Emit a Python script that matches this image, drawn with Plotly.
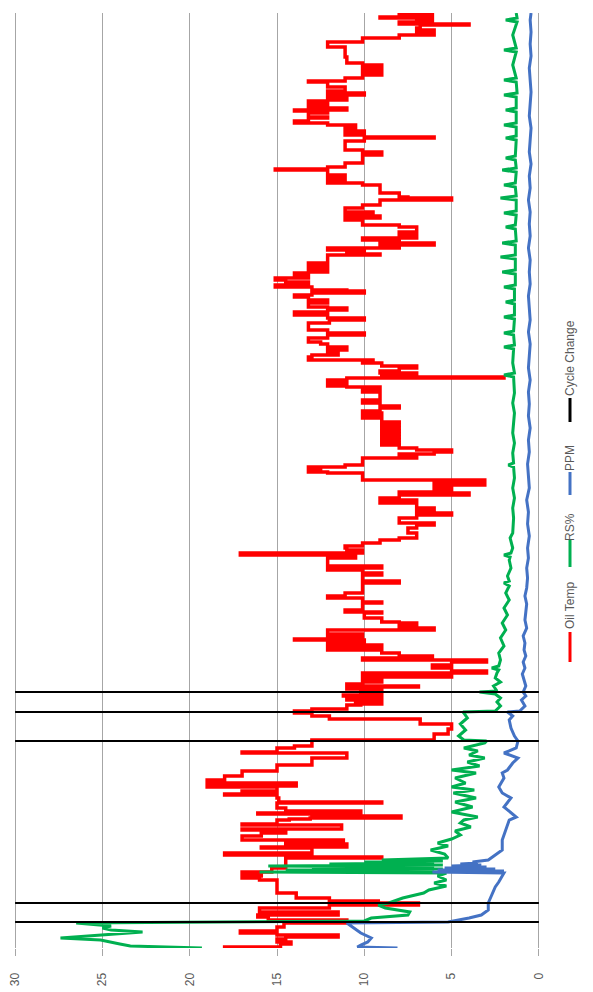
import plotly.graph_objects as go

# ---------------- data (time sample index, value) ----------------
oil_t = [0,1,4,6,9,11,13,15,17,21,25,28,31,33,36,40,43,45,47,50,55,65,68,70,72,74,76,80,90,91,93,95,100,101,104,106,108,112,115,118,119,123,124,128,
 129,130,132,134,135,137,140,145,146,150,153,154,156,157,161,162,165,168,171,172,176,177,182,183,189,190,193,195,196,200,202,206,208,212,214,219,224,229,232,235,237,239,241,243,244,246,248,249,252,253,256,258,259,261,262,
 264,266,268,271,273,275,277,280,283,286,288,290,292,295,298,300,303,306,308,309,311,314,318,320,323,325,326,330,335,336,338,345,346,350,352,355,360,365,367,373,375,378,380,382,388,390,393,395,398,
 400,402,405,408,410,415,420,423,425,430,433,435,438,440,445,447,448,450,453,455,456,458,460,463,465,467,468,471,475,476,478,480,481,483,487,490,492,494,496,498,500,503,505,508,511,514,517,520,523,526,530,533,
 535,537,540,542,545,548,555,556,558,561,562,564,566,568,570,571,573,575,577,580,582,585,587,588,591,593,596,598,601,604,606,610,613,615,618,623,625,628,630,633,636,638,640,641,645,648,651,653,655,657,658,661,663,666,
 668,670,673,675,676,679,681,683,685,690,693,694,696,698,700,702,703,705,706,708,710,713,716,720,721,723,726,728,730,732,734,736,740,743,748,750,751,755,760,763,765,767,769,771,773,778,779,781,785,790,793,796,798,803,
 805,807,810,811,813,815,817,820,823,825,827,830,831,835,837,838,840,841,843,845,847,848,851,853,855,857,861,866,867,870,873,874,876,878,881,883,885,891,896,901,905,906,910,913,914,916,918,920,923,924,926,928,930,931,933,935]
oil_temp = [18,14.8,14.2,15,14.5,11.5,15,17.1,15,14.6,11,15.5,16.1,11.5,16,12,6.9,9.2,12,13.9,15,15,16,17,15.9,17,15.3,14.5,9,13,18,13,15.9,11,14.5,11.2,17,15.9,14.5,17,11.3,17,15,14.3,
 13.1,7.9,13,16.1,10.2,14.5,15,9,14.9,15,18,15,17,15,19,13.9,19,18,18,17,17,15,15,13,13,11,11,17,15,14,13,13,6,6,5.2,5,6.8,12,13,14,13,11,11,10.2,9,10.5,11,9,11.2,9,10.2,9,11,6.9,11,
 10.1,9,10.1,5,10.1,3,5,6.1,5,3,10.1,6.1,8,9,12.1,9,12.1,10,14,12.1,10.1,12.1,6,8,7,8,9,10,9,11.1,10.1,9,10.1,12.1,11.1,10.1,10.1,8,10.1,9,10.1,12.1,9,12.1,12.1,10.5,17.1,10.1,11,
 11.1,10.1,9.1,8,7,7.5,7,6,8,7,5,7,6,7,9.1,7,9.1,8,4,8,6,5,6,3.1,6,3.1,10.1,10.1,12.1,13.2,12.5,13.2,11.1,10.1,10.1,7,8,6,5,7,8,9,8,9,8,9,8,9,8,9,10.1,9,
 10.1,9.1,8,9.1,10.1,9.1,9.1,10.1,9.1,11,12.1,11,12.1,11,2,9,7,9.1,8,7,9,10.1,9.5,13.2,13,11.5,12.1,11,12.1,12.5,13.2,12.1,10,12.1,13.2,13.2,12,10,12.1,14,12.1,11,12.1,13.2,12.1,13.2,14,13,10,11,13,15.1,13.2,14.5,
 15.1,13.2,14,13.2,12.1,13.2,12.1,13.2,12.1,12.1,9.1,11,10,12.1,8,9.1,6,9.1,8,10.1,7,8,7,7,8,10.1,10.1,11.1,9.1,11.1,9.5,11.1,10.1,9.1,5,7.5,8,9.1,9.1,10.1,12.1,11.1,12.1,11.1,12.1,15.1,12.1,11.1,10.1,10.1,9,10.1,11.1,11.1,
 11.1,10,6,10,11.1,10,11.1,10.5,12.1,14,13.2,12.1,13.2,12.1,14,11,12.1,13.2,12.1,13.2,12.1,11,12.1,10,12.1,11.1,12.1,13.2,11.1,10.1,9,10.1,9,10.1,9,10.1,11,11.1,11.1,12.1,12.1,10.1,8,6,7,6,7,6.8,4,8,6.1,7,9.1,6.1,8,6]

rs_t = [0,1,2,4,6,8,10,13,16,18,20,22,25,27,30,33,36,40,43,45,50,55,58,62,65,68,72,75,76,77,78,79,80,81,82,83,84,85,86,87,88,90,94,98,102,105,109,113,117,121,125,128,
 131,136,141,146,150,155,158,161,165,170,175,178,182,186,190,193,197,200,205,207,208,212,218,224,230,235,236,237,242,246,250,254,256,257,262,266,270,275,278,280,282,288,295,302,310,318,325,333,340,348,355,362,365,367,372,380,388,391,393,395,
 400,410,415,430,440,450,460,470,481,483,485,495,505,515,525,535,545,555,571,573,575,585,599,601,603,613,615,617,629,631,633,644,646,648,659,661,663,674,676,678,689,691,693,703,705,707,719,721,723,733,735,737,748,750,752,761,763,765,776,778,780,788,790,792,808,810,812,821,823,825,836,838,840,851,853,855,866,868,870,883,896,898,900,913,926,928,930,935]
rs_pct = [19.3,22,23.4,24,24.5,25.1,27.4,25,22.7,24.5,25,24.5,26.5,10,9.6,7.5,7.4,8.8,9.2,8.6,7.8,6.6,6.3,5.3,6.0,5.3,5.8,5.3,16,6,14.5,5.5,13,6,15.5,5.5,12,6,10,5.5,9,5.2,5.4,6.2,5.2,5.8,5.0,4.5,4.8,3.9,4.5,4.3,
 3.5,5,3.8,4.8,3.6,4.9,3.7,5,4.2,4.8,3.6,5.0,3.4,4.1,3.1,4.0,3.5,4.3,3.1,3.0,4.3,4.6,4.2,4.5,4.1,4.3,4.35,2.5,2.2,2.4,2.2,2.5,3.4,2.4,2.6,2.2,2.5,2.4,2.3,2.7,2.3,2.2,2.3,2.0,2.2,1.9,2.1,1.8,2.0,1.7,1.9,1.7,2.0,1.7,1.8,1.6,1.7,1.65,2.0,1.6,
 1.5,1.65,1.5,1.45,1.5,1.4,1.5,1.4,1.45,1.75,1.45,1.5,1.4,1.5,1.45,1.4,1.5,1.4,1.45,2.0,1.4,1.5,1.45,2.0,1.4,1.45,2.0,1.45,1.4,2.0,1.4,1.4,1.9,1.4,1.4,2.0,1.35,1.35,2.1,1.35,1.35,2.2,1.35,1.35,2.1,1.3,1.35,1.9,1.35,1.3,2.0,1.3,1.3,2.2,1.3,1.35,2.0,1.35,1.3,2.1,1.3,1.35,1.9,1.35,1.3,1.9,1.3,1.3,2.0,1.3,1.3,1.9,1.3,1.3,2.0,1.25,1.3,2.0,1.3,1.5,1.3,2.0,1.3,1.5,1.25,1.9,1.25,1.3]

ppm_t = [0,1,3,6,10,15,20,25,26,28,30,33,38,45,53,61,66,75,76,77,78,79,80,81,82,83,84,85,86,88,93,98,108,118,128,131,141,150,155,161,170,175,178,185,190,195,200,207,212,220,228,232,236,237,242,248,252,
 256,262,268,274,280,286,292,298,305,312,320,328,336,344,352,360,370,380,390,400,412,424,436,448,460,472,484,496,508,520,532,544,556,568,580,592,604,616,628,640,652,664,676,688,700,712,724,736,748,760,772,784,796,808,820,832,844,856,868,880,892,904,916,928,935]
ppm = [8.1,10.4,10.2,9.8,9.6,10.2,10.6,11,5.2,4.5,4,3.3,2.9,2.9,2.7,2.5,2.3,2.0,6.1,2,5.8,2.5,5.4,3,5,3.3,4.5,3.5,3.8,2.9,2.5,2.1,2.1,1.9,1.7,1.3,2.0,1.6,2.1,2.3,2.0,2.1,1.8,1.5,1.2,2.0,1.3,1.2,1.4,1.6,1.7,1.5,1.8,1.1,0.8,1.0,0.75,
 0.9,0.75,0.85,0.95,0.8,0.9,0.75,0.85,0.8,0.9,0.7,0.8,0.75,0.7,0.8,0.7,0.65,0.7,0.6,0.65,0.55,0.65,0.6,0.7,0.55,0.6,0.65,0.55,0.6,0.5,0.6,0.55,0.6,0.5,0.6,0.55,0.5,0.6,0.5,0.55,0.6,0.5,0.55,0.5,0.6,0.5,0.55,0.5,0.6,0.5,0.55,0.45,0.55,0.5,0.45,0.55,0.5,0.45,0.5,0.55,0.45,0.5,0.45,0.5,0.45]

cycle_change_t = [26, 45, 207, 236, 256]

value_ticks = [0, 5, 10, 15, 20, 25, 30]

series_names = ["Oil Temp", "RS%", "PPM", "Cycle Change"]
series_colors = ["#FF0000", "#00B050", "#4472C4", "#000000"]

# ---------------- layout constants ----------------
W, H = 593, 992
ML, MR, MT, MB = 13, 52, 13, 44
VMAX, VMIN = 30, 0
PAD = 0.12
T_END = 935

fig = go.Figure()

fig.add_trace(go.Scatter(x=oil_temp, y=oil_t, mode="lines", name=series_names[0],
                         line=dict(color=series_colors[0], width=3.5, shape="vh")))
fig.add_trace(go.Scatter(x=rs_pct, y=rs_t, mode="lines", name=series_names[1],
                         line=dict(color=series_colors[1], width=3)))
fig.add_trace(go.Scatter(x=ppm, y=ppm_t, mode="lines", name=series_names[2],
                         line=dict(color=series_colors[2], width=3)))

cx, cy = [], []
for t in cycle_change_t:
    cx += [VMAX, VMIN, None]
    cy += [t, t, None]
fig.add_trace(go.Scatter(x=cx, y=cy, mode="lines", name=series_names[3],
                         line=dict(color=series_colors[3], width=2)))

fig.update_xaxes(range=[VMAX + PAD, VMIN - PAD], tickvals=value_ticks,
                 showgrid=True, gridcolor="#a6a6a6", gridwidth=1, zeroline=False,
                 showline=False, ticks="outside", ticklen=7, tickcolor="#a6a6a6",
                 tickangle=-90, ticklabelstandoff=12, automargin=False,
                 tickfont=dict(size=12, color="#595959",
                               family="Liberation Sans, Arial, sans-serif"))
fig.update_yaxes(range=[0, T_END], visible=False, automargin=False)

# rotated legend (built from names / colours)
pw = W - ML - MR
ph = H - MT - MB
def px(x):
    return (x - ML) / pw
def py(y):
    return (H - MB - y) / ph

legend_items = [  # (key_bottom, key_top, text_center) in pixels from top
    (662, 632, 606),
    (567, 540, 527),
    (495, 472, 458),
    (422, 398, 358),
]
shapes = []
annotations = []
key_x = 570
for name, col, (kb, kt, tc) in zip(series_names, series_colors, legend_items):
    shapes.append(dict(type="line", xref="paper", yref="paper",
                       x0=px(key_x), x1=px(key_x), y0=py(kb), y1=py(kt),
                       line=dict(color=col, width=3)))
    annotations.append(dict(xref="paper", yref="paper", x=px(key_x), y=py(tc),
                            text=name, showarrow=False, textangle=-90,
                            xanchor="center", yanchor="middle",
                            font=dict(size=12, color="#595959",
                                      family="Liberation Sans, Arial, sans-serif")))

fig.update_layout(width=W, height=H, margin=dict(l=ML, r=MR, t=MT, b=MB),
                  paper_bgcolor="white", plot_bgcolor="white", showlegend=False,
                  hovermode=False, shapes=shapes, annotations=annotations)

fig.write_html("out.html", config={"displayModeBar": False},
               post_script="document.body.style.margin='0px';document.body.style.overflow='hidden';")
